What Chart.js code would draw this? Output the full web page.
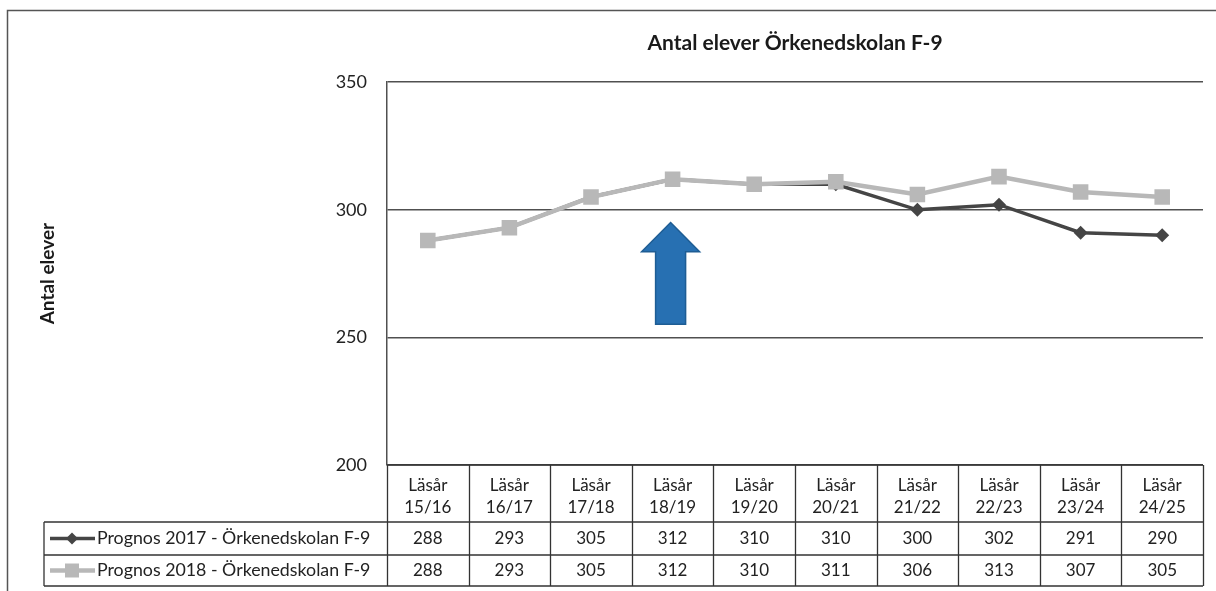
<!DOCTYPE html>
<html lang="sv">
<head>
<meta charset="UTF-8">
<title>Antal elever Örkenedskolan F-9</title>
<script src="https://cdn.jsdelivr.net/npm/chart.js"></script>
<style>
    html, body { margin: 0; padding: 0; background: #fff; }
    #wrap { width: 1216px; height: 591px; position: relative; }
</style>
</head>
<body>
<div id="wrap"><canvas id="chart"></canvas></div>
<script>
// data
const years = ['15/16', '16/17', '17/18', '18/19', '19/20', '20/21', '21/22', '22/23', '23/24', '24/25'];
const prognos2017 = [288, 293, 305, 312, 310, 310, 300, 302, 291, 290];
const prognos2018 = [288, 293, 305, 312, 310, 311, 306, 313, 307, 305];
const seriesNames = ['Prognos 2017 - Örkenedskolan F-9', 'Prognos 2018 - Örkenedskolan F-9'];
const yMin = 200, yMax = 350, yStep = 50;

const FONT = 'Lato, "Open Sans", sans-serif';
const DARK = '#454545';
const LIGHT = '#b8b8b8';

// frame round the whole chart
const framePlugin = {
    id: 'frame',
    beforeDraw(chart) {
        const ctx = chart.ctx;
        ctx.save();
        ctx.strokeStyle = '#555';
        ctx.lineWidth = 1.5;
        ctx.beginPath();
        ctx.moveTo(7.5, chart.height);
        ctx.lineTo(7.5, 10.5);
        ctx.lineTo(chart.width, 10.5);
        ctx.stroke();
        ctx.restore();
    }
};

// data table under the x axis, with legend keys
const tablePlugin = {
    id: 'dataTable',
    afterDraw(chart) {
        const ctx = chart.ctx;
        const x = chart.scales.x;
        const n = years.length;
        const step = x.width / n;
        const top = chart.chartArea.bottom;
        const headBottom = top + 57;
        const row1Bottom = headBottom + 33;
        const row2Bottom = row1Bottom + 31;
        const legendLeft = 44;

        ctx.save();
        ctx.strokeStyle = '#333';
        ctx.lineWidth = 1.3;
        ctx.beginPath();
        [headBottom, row1Bottom, row2Bottom].forEach(y => {
            ctx.moveTo(legendLeft, y);
            ctx.lineTo(x.right, y);
        });
        ctx.moveTo(x.left, top);
        ctx.lineTo(x.right, top);
        for (let i = 0; i <= n; i++) {
            const px = Math.round(x.left + i * step) + 0.5;
            ctx.moveTo(px, top);
            ctx.lineTo(px, row2Bottom);
        }
        ctx.moveTo(legendLeft, headBottom);
        ctx.lineTo(legendLeft, row2Bottom);
        ctx.stroke();

        // values
        ctx.fillStyle = '#222';
        ctx.font = '17px ' + FONT;
        ctx.textAlign = 'center';
        ctx.textBaseline = 'middle';
        const rows = [prognos2017, prognos2018];
        const centers = [(headBottom + row1Bottom) / 2, (row1Bottom + row2Bottom) / 2];
        rows.forEach((vals, r) => {
            vals.forEach((v, i) => {
                ctx.fillText(String(v), x.getPixelForValue(i), centers[r]);
            });
        });

        // legend keys
        const styles = [
            { color: DARK, width: 3.5, marker: 'diamond' },
            { color: LIGHT, width: 4.5, marker: 'square' }
        ];
        styles.forEach((s, r) => {
            const cy = centers[r];
            ctx.strokeStyle = s.color;
            ctx.lineWidth = s.width;
            ctx.beginPath();
            ctx.moveTo(50, cy);
            ctx.lineTo(95, cy);
            ctx.stroke();
            ctx.fillStyle = s.color;
            ctx.beginPath();
            if (s.marker === 'diamond') {
                ctx.moveTo(72, cy - 6);
                ctx.lineTo(78, cy);
                ctx.lineTo(72, cy + 6);
                ctx.lineTo(66, cy);
                ctx.closePath();
            } else {
                ctx.rect(65, cy - 7, 14, 14);
            }
            ctx.fill();
            ctx.fillStyle = '#222';
            ctx.textAlign = 'left';
            ctx.font = '17.8px ' + FONT;
            ctx.fillText(seriesNames[r], 97, cy);
        });
        ctx.restore();
    }
};

// blue arrow over 18/19
const arrowPlugin = {
    id: 'arrow',
    afterDatasetsDraw(chart) {
        const ctx = chart.ctx;
        const x = chart.scales.x;
        const y = chart.scales.y;
        const cx = x.getPixelForValue(3) - 2;
        const tip = y.getPixelForValue(295);
        const headBase = y.getPixelForValue(283.6);
        const bottom = y.getPixelForValue(255.2);
        const hw = 29, sw = 15;
        ctx.save();
        ctx.fillStyle = '#2770b2';
        ctx.strokeStyle = '#1e5d94';
        ctx.lineWidth = 1.5;
        ctx.beginPath();
        ctx.moveTo(cx, tip);
        ctx.lineTo(cx + hw, headBase);
        ctx.lineTo(cx + sw, headBase);
        ctx.lineTo(cx + sw, bottom);
        ctx.lineTo(cx - sw, bottom);
        ctx.lineTo(cx - sw, headBase);
        ctx.lineTo(cx - hw, headBase);
        ctx.closePath();
        ctx.fill();
        ctx.stroke();
        ctx.restore();
    }
};

new Chart(document.getElementById('chart'), {
    type: 'line',
    data: {
        labels: years.map(y => ['Läsår', y]),
        datasets: [
            {
                label: seriesNames[0],
                data: prognos2017,
                borderColor: DARK,
                backgroundColor: DARK,
                borderWidth: 3.5,
                pointStyle: 'rectRot',
                pointRadius: 7,
                pointBorderWidth: 0,
                order: 1
            },
            {
                label: seriesNames[1],
                data: prognos2018,
                borderColor: LIGHT,
                backgroundColor: LIGHT,
                borderWidth: 4.5,
                pointStyle: 'rect',
                pointRadius: 11,
                pointBorderWidth: 0,
                order: 0
            }
        ]
    },
    options: {
        responsive: true,
        maintainAspectRatio: false,
        animation: false,
        layout: { padding: { left: 36, right: 13, top: 0, bottom: 0 } },
        plugins: {
            legend: { display: false },
            tooltip: { enabled: false },
            title: {
                display: true,
                fullSize: false,
                text: 'Antal elever Örkenedskolan F-9',
                color: '#1a1a1a',
                font: { family: FONT, size: 21, weight: 'bold' },
                padding: { top: 31, bottom: 26 }
            }
        },
        scales: {
            x: {
                offset: true,
                grid: { display: false },
                border: { display: false },
                ticks: {
                    color: '#222',
                    font: { family: FONT, size: 17, lineHeight: 1.3 },
                    padding: 1,
                    maxRotation: 0,
                    autoSkip: false
                },
                afterFit(scale) { scale.height = 126; }
            },
            y: {
                min: yMin,
                max: yMax,
                ticks: {
                    stepSize: yStep,
                    color: '#222',
                    font: { family: FONT, size: 18 },
                    padding: 20
                },
                grid: { color: '#505050', lineWidth: 1.5, drawTicks: false },
                border: { display: true, color: '#505050', width: 1.5 },
                title: {
                    display: true,
                    text: 'Antal elever',
                    color: '#1a1a1a',
                    font: { family: FONT, size: 19, weight: 'bold' },
                    padding: 0
                },
                afterFit(scale) { scale.width = 351; }
            }
        }
    },
    plugins: [framePlugin, tablePlugin, arrowPlugin]
});
</script>
</body>
</html>
